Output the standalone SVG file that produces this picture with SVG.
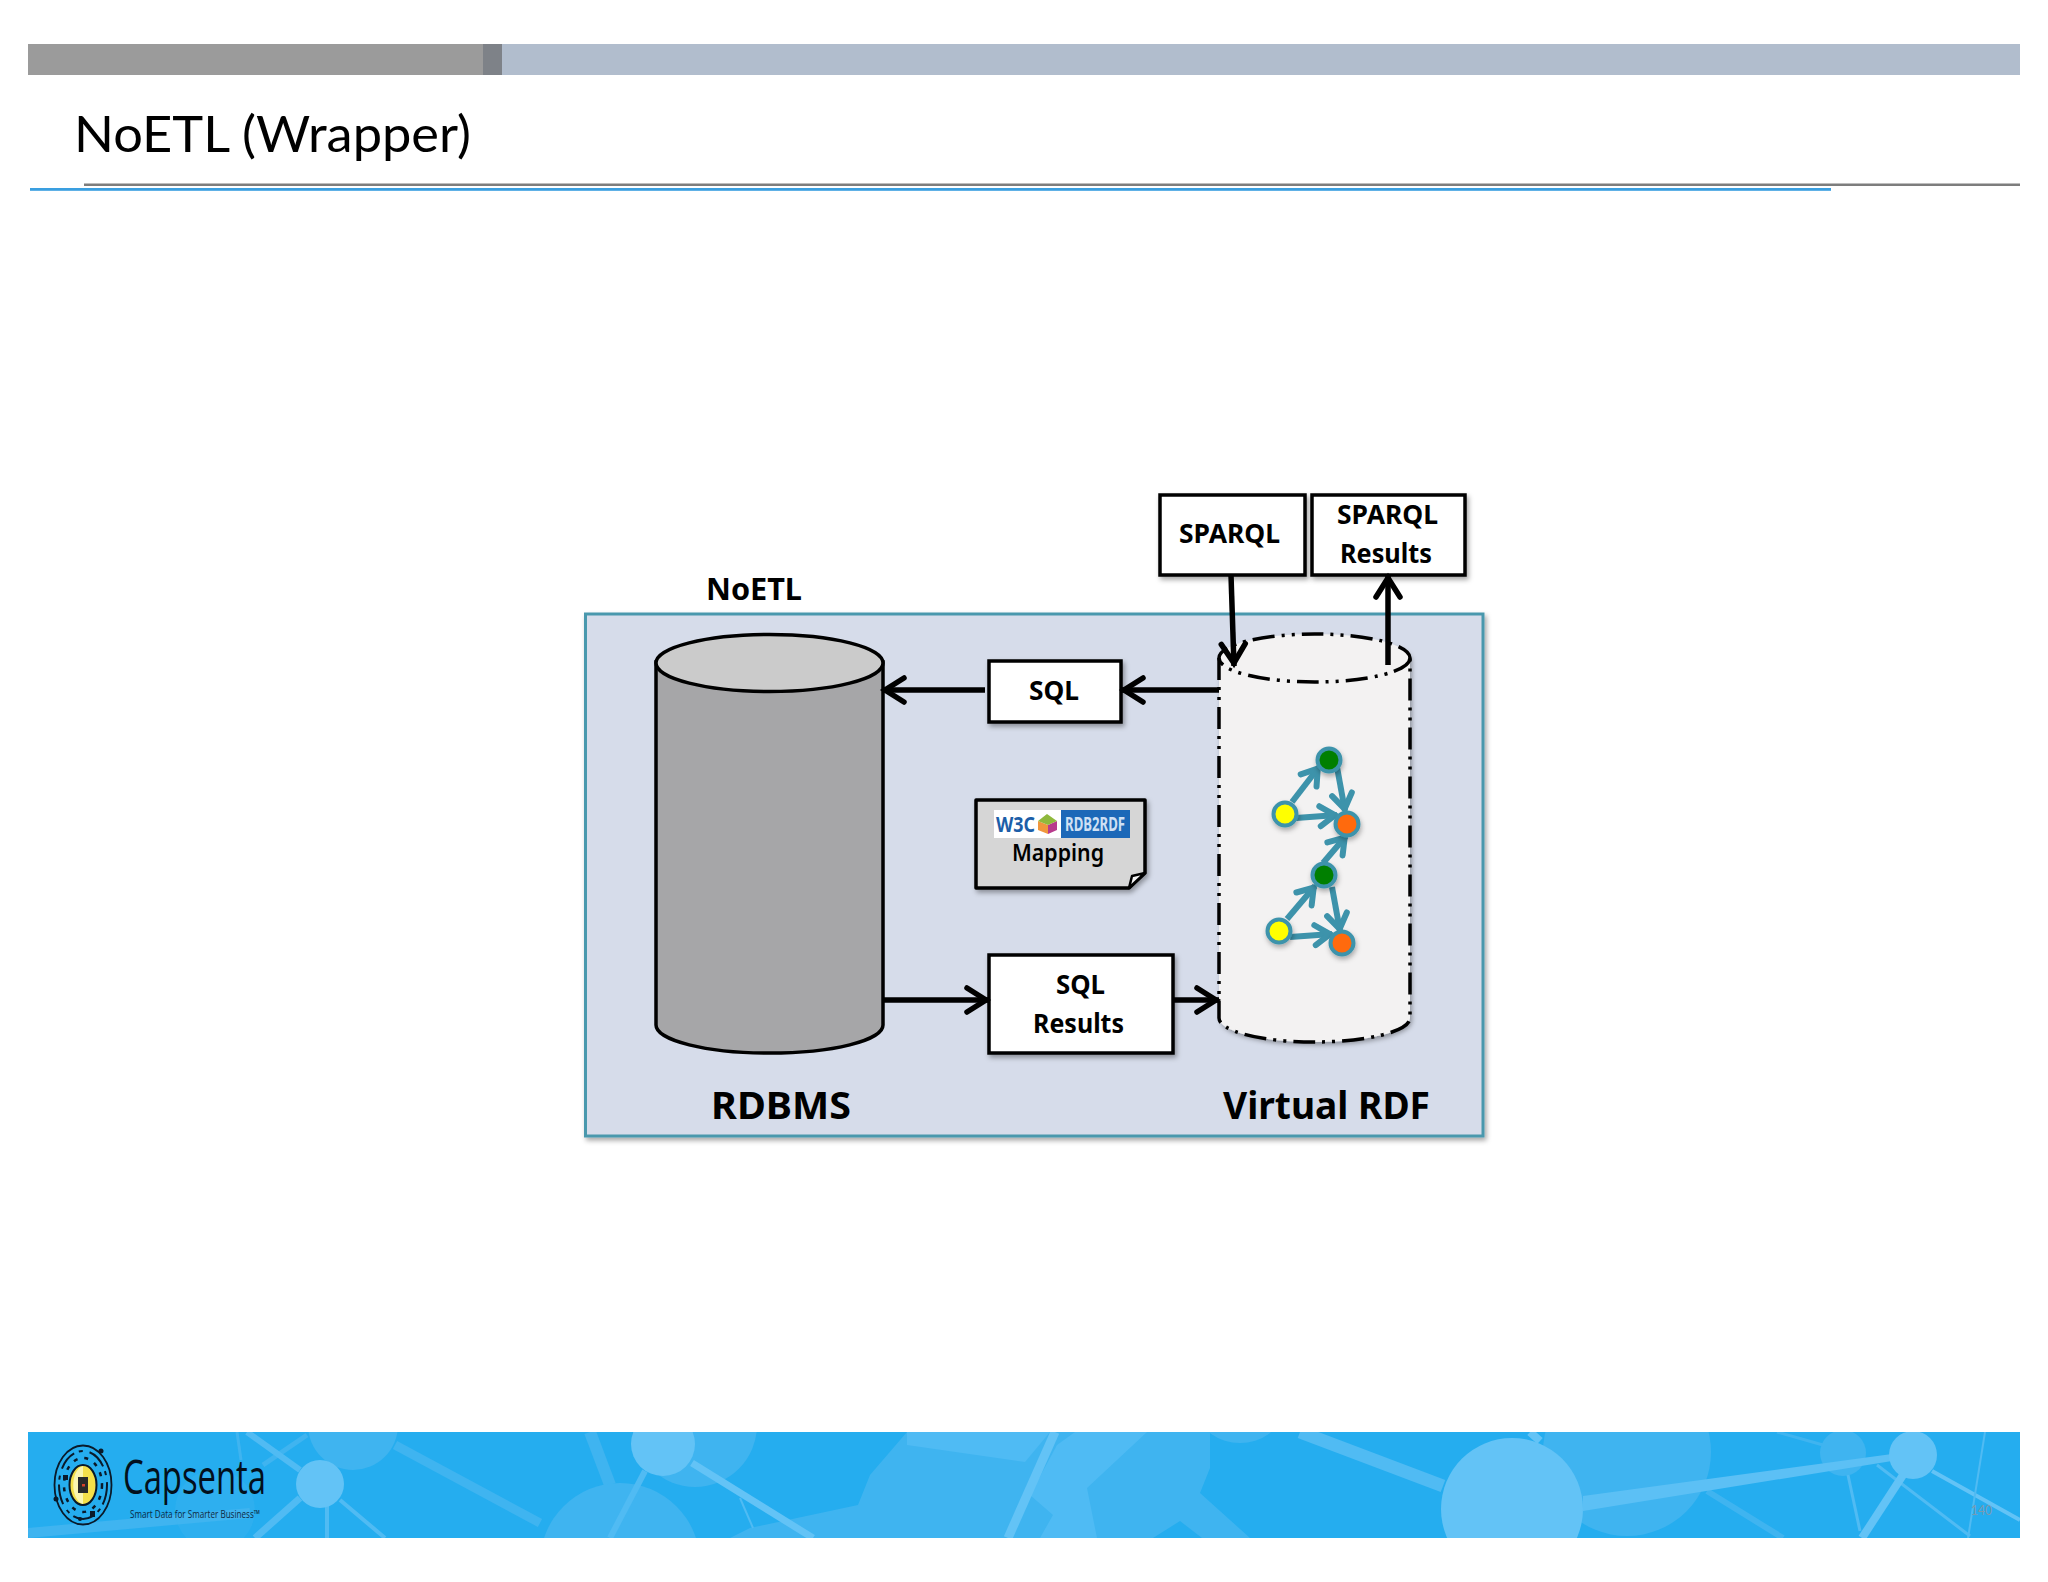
<svg xmlns="http://www.w3.org/2000/svg" width="2048" height="1582" viewBox="0 0 2048 1582">
<style>
.lbl{font-family:"Noto Sans","Open Sans",sans-serif;font-weight:700;fill:#000;}
.box{fill:#fff;stroke:#000;stroke-width:3.5;filter:url(#sh);}
.conn{fill:none;stroke:#000;stroke-width:5.5;marker-end:url(#ah);}
.rdf{fill:none;stroke:#3d93ab;stroke-width:6;marker-end:url(#ta);}
.nd{stroke:#3d93ab;stroke-width:4;filter:url(#sh2);}
.dd{fill:none;stroke:#000;stroke-width:3.5;stroke-dasharray:22 7 3 7 3 7;}
.m{fill:#3fb4f0;}
.l{fill:#63c3f6;}
.ms{stroke:#3fb4f0;fill:none;}
.ls{stroke:#63c3f6;fill:none;}
.mid{stroke:#50bbf3;fill:none;}
.lg{fill:#0a1a2a;}
</style>
<defs>
<marker id="ah" markerUnits="userSpaceOnUse" markerWidth="40" markerHeight="40" refX="26" refY="20" orient="auto" viewBox="0 0 40 40"><path d="M4,8 L23,20 L4,32" fill="none" stroke="#000" stroke-width="5.5" stroke-linecap="round" stroke-linejoin="miter"/></marker>
<marker id="ta" markerUnits="userSpaceOnUse" markerWidth="32" markerHeight="32" refX="22" refY="16" orient="auto" viewBox="0 0 32 32"><path d="M5,6 L20,16 L5,26" fill="none" stroke="#3d93ab" stroke-width="6" stroke-linecap="round"/></marker>
<filter id="sh" x="-10%" y="-10%" width="125%" height="125%"><feDropShadow dx="2" dy="3" stdDeviation="2.5" flood-color="#000" flood-opacity=".35"/></filter>
<filter id="sh2" x="-30%" y="-30%" width="170%" height="170%"><feDropShadow dx="1" dy="3" stdDeviation="2.5" flood-color="#000" flood-opacity=".3"/></filter>
<clipPath id="fc"><rect x="28" y="1432" width="1992" height="106"/></clipPath>
</defs>
<rect width="2048" height="1582" fill="#fff"/>

<g id="header">
<rect x="28" y="44" width="1992" height="31" fill="#b1bdcd"/>
<rect x="28" y="44" width="455" height="31" fill="#9b9b9b"/>
<rect x="483" y="44" width="19" height="31" fill="#7e8288"/>
<text x="74" y="151.500" font-family="Lato,'Noto Sans',sans-serif" font-size="50" fill="#000" textLength="397" lengthAdjust="spacingAndGlyphs">NoETL (Wrapper)</text>
<rect x="84" y="183.500" width="1936" height="2.500" fill="#7d7d7d"/>
<rect x="30" y="188" width="1801" height="2.800" fill="#3a9fe0"/>
</g>

<g id="footer">
<rect x="28" y="1432" width="1992" height="106" fill="#25adef"/>
<g clip-path="url(#fc)">
<path class="ms" stroke-width="10" d="M28,1533 L250,1513"/>
<circle class="m" cx="215" cy="1510" r="40" opacity=".35"/>
<circle class="m" cx="353" cy="1425" r="45"/>
<path class="ms" stroke-width="9" d="M395,1445 L540,1523"/>
<path class="ms" stroke-width="5" d="M263,1465 L307,1435"/>
<path class="ms" stroke-width="3" d="M237,1432 L241,1460"/>
<path class="ms" stroke-width="12" d="M590,1432 L610,1485"/>
<circle class="m" cx="620" cy="1563" r="80"/>
<circle class="m" cx="695" cy="1425" r="62"/>
<path class="mid" stroke-width="6" d="M247,1432 L300,1470"/>
<path class="mid" stroke-width="7" d="M300,1498 L255,1538"/>
<path class="mid" stroke-width="4" d="M327,1505 V1538 M340,1500 L385,1538"/>
<circle class="l" cx="320" cy="1484" r="24"/>
<path class="mid" stroke-width="6" d="M645,1471 L610,1538"/>
<circle class="l" cx="663" cy="1444" r="32"/>
<path class="m" d="M907,1432 H1210 V1468 L1200,1493 L1250,1538 H730 L750,1528 L797,1518 L858,1505 L870,1475 Z"/>
<path fill="#25adef" d="M1180,1521 L1153,1538 H1202 Z"/>
<path fill="#4fbbf4" d="M907,1432 H1050 L1025,1462 L907,1445 Z M1057,1445 L1075,1432 H1147 L1087,1488 L1097,1538 H1040 L1053,1515 L1030,1495 Z"/>
<path class="ls" stroke-width="7" d="M692,1463 L813,1538"/>
<path class="mid" stroke-width="2" d="M740,1498 L753,1528"/>
<path class="ls" stroke-width="9" d="M1055,1432 L1008,1538"/>
<ellipse class="m" cx="1240" cy="1413" rx="40" ry="30"/>
<circle class="m" cx="1627" cy="1452" r="84"/>
<path class="ms" stroke-width="6" d="M1707,1491 L1783,1538"/>
<path class="ms" stroke-width="3" d="M1777,1432 L1823,1445"/>
<circle class="m" cx="1843" cy="1453" r="23"/>
<path class="mid" stroke-width="3" d="M1877,1465 L1970,1536 M1848,1475 L1860,1531"/>
<path class="mid" stroke-width="13" d="M1300,1432 L1443,1486"/>
<path class="ls" stroke-width="8" d="M1530,1432 L1540,1441"/>
<circle class="l" cx="1512" cy="1509" r="71"/>
<path fill="#5cc0f5" d="M1583,1496 L1892,1454 V1461 L1583,1511 Z"/>
<circle class="l" cx="1913" cy="1455" r="24"/>
<path class="ls" stroke-width="8" d="M1903,1475 L1862,1538"/>
<path class="ls" stroke-width="4" d="M1932,1471 L2020,1520"/>
<path class="mid" stroke-width="2" d="M1985,1432 L1968,1538"/>
</g>
<g id="logo">
<ellipse cx="83" cy="1485" rx="28.500" ry="39.500" fill="none" stroke="#0a1a2a" stroke-width="1.800"/>
<ellipse cx="83" cy="1485" rx="24" ry="34" fill="none" stroke="#0a1a2a" stroke-width="2" stroke-dasharray="20 5 4 7"/>
<ellipse cx="83" cy="1485" rx="19" ry="27" fill="none" stroke="#0a1a2a" stroke-width="2.500" stroke-dasharray="4 7"/>
<ellipse cx="83" cy="1485" rx="13.500" ry="20" fill="#f4e04a" stroke="#0a1a2a" stroke-width="2"/>
<path d="M83,1466 C70,1470 70,1500 83,1504" fill="#fbf6b0"/>
<rect x="78" y="1477" width="10" height="16" fill="#2a2a2a"/>
<rect x="82" y="1484" width="3" height="2.500" fill="#d8402a"/>
<rect class="lg" x="90" y="1511" width="5" height="6"/>
<rect class="lg" x="63" y="1475" width="5" height="5"/>
<circle class="lg" cx="56" cy="1499" r="2.500"/>
<circle class="lg" cx="101" cy="1451" r="2.500"/>
<circle class="lg" cx="80" cy="1519" r="2"/>
<text x="123" y="1494" font-family="'Open Sans','Noto Sans',sans-serif" font-size="48" fill="#03101c" textLength="143" lengthAdjust="spacingAndGlyphs">Capsenta</text>
<text x="130" y="1518" font-family="'Open Sans','Noto Sans',sans-serif" font-size="11.500" fill="#0d2a42" textLength="130" lengthAdjust="spacingAndGlyphs">Smart Data for Smarter Business™</text>
</g>
<text x="1971" y="1515" font-family="Lato,'Open Sans',sans-serif" font-size="14" fill="#7a9ab2" textLength="21" lengthAdjust="spacingAndGlyphs">140</text>
</g>

<g id="noetl-panel">
<rect x="585.500" y="614" width="897.500" height="522" fill="#d6dcea" stroke="#4a98ad" stroke-width="3" filter="url(#sh)"/>
<text class="lbl" x="706" y="600" font-size="31" textLength="96" lengthAdjust="spacingAndGlyphs">NoETL</text>
</g>

<g id="rdbms">
<path d="M656,662 V1025 A113,28 0 0 0 883,1025 V662 Z" fill="#a6a6a8" stroke="#000" stroke-width="3.500"/>
<ellipse cx="769.500" cy="663" rx="113.500" ry="28.500" fill="#cbcbcb" stroke="#000" stroke-width="3.500"/>
<text class="lbl" x="711" y="1119" font-size="37" textLength="140" lengthAdjust="spacingAndGlyphs">RDBMS</text>
</g>

<g id="virtual-rdf">
<path d="M1219,658 V1018 A95.500,24 0 0 0 1410,1018 V658 A95.500,24 0 0 0 1219,658 Z" fill="#f3f2f2" filter="url(#sh)"/>
<path class="dd" d="M1219,658 V1018 A95.500,24 0 0 0 1410,1018 V658"/>
<ellipse class="dd" cx="1314.500" cy="658" rx="95.500" ry="24"/>
<text class="lbl" x="1223" y="1119" font-size="37" textLength="207" lengthAdjust="spacingAndGlyphs">Virtual RDF</text>
</g>

<g id="rdf-graph">
<path class="rdf" d="M1292,802 L1319,767"/>
<path class="rdf" d="M1337,767 L1345,811"/>
<path class="rdf" d="M1296,818 L1337,815"/>
<path class="rdf" d="M1323,863 L1346,836"/>
<path class="rdf" d="M1287,919 L1315,886"/>
<path class="rdf" d="M1332,887 L1340,931"/>
<path class="rdf" d="M1290,937 L1332,934"/>
<circle class="nd" cx="1329" cy="760" r="11.500" fill="#067f06"/>
<circle class="nd" cx="1285" cy="814" r="11.500" fill="#ffff00"/>
<circle class="nd" cx="1347" cy="824" r="11.500" fill="#ff6a0a"/>
<circle class="nd" cx="1324" cy="875" r="11.500" fill="#067f06"/>
<circle class="nd" cx="1279" cy="931" r="11.500" fill="#ffff00"/>
<circle class="nd" cx="1342" cy="943" r="11.500" fill="#ff6a0a"/>
</g>

<g id="sql">
<rect class="box" x="989" y="661" width="132" height="61"/>
<text class="lbl" x="1029" y="700" font-size="27" textLength="50" lengthAdjust="spacingAndGlyphs">SQL</text>
</g>

<g id="sql-results">
<rect class="box" x="989" y="955" width="184" height="98"/>
<text class="lbl" x="1056" y="994" font-size="27" textLength="49" lengthAdjust="spacingAndGlyphs">SQL</text>
<text class="lbl" x="1033" y="1033" font-size="27" textLength="91" lengthAdjust="spacingAndGlyphs">Results</text>
</g>

<g id="sparql">
<rect class="box" x="1160" y="495" width="145" height="80"/>
<text class="lbl" x="1179" y="543" font-size="27" textLength="101" lengthAdjust="spacingAndGlyphs">SPARQL</text>
</g>

<g id="sparql-results">
<rect class="box" x="1312" y="495" width="153" height="80"/>
<text class="lbl" x="1337" y="524" font-size="27" textLength="101" lengthAdjust="spacingAndGlyphs">SPARQL</text>
<text class="lbl" x="1340" y="563" font-size="27" textLength="92" lengthAdjust="spacingAndGlyphs">Results</text>
</g>

<g id="mapping">
<path d="M976,800 H1145 V873 L1129,888 H976 Z" fill="#d6d6d6" stroke="#000" stroke-width="3.500" stroke-linejoin="round" filter="url(#sh)"/>
<path d="M1145,873 L1132,876 L1129,888 Z" fill="#f4f4f4" stroke="#000" stroke-width="2.500" stroke-linejoin="round"/>
<rect x="994" y="810" width="67" height="28" fill="#fff"/>
<rect x="1061" y="810" width="69" height="28" fill="#1c68b8"/>
<text x="996" y="832" font-family="'Noto Sans',sans-serif" font-weight="700" font-size="21" fill="#1c5ea8" textLength="39" lengthAdjust="spacingAndGlyphs">W3C</text>
<path d="M1038,821 L1048,825 V834 L1038,830 Z" fill="#f0963c"/>
<path d="M1048,825 L1057,821 V830 L1048,834 Z" fill="#b83a8c"/>
<path d="M1038,821 L1047,814 L1057,821 L1048,825 Z" fill="#8fb93c"/>
<text x="1065" y="831" font-family="'Noto Sans',sans-serif" font-weight="700" font-size="19" fill="#cfe0f4" textLength="60" lengthAdjust="spacingAndGlyphs">RDB2RDF</text>
<text x="1012" y="861" font-family="'Noto Sans',sans-serif" font-weight="600" font-size="23" fill="#000" textLength="92" lengthAdjust="spacingAndGlyphs">Mapping</text>
</g>

<g id="connectors">
<path class="conn" d="M1219,690 H1121"/>
<path class="conn" d="M985,690 H882"/>
<path class="conn" d="M883,1000 H989"/>
<path class="conn" d="M1173,1000 H1219"/>
<path class="conn" d="M1231,575 L1234,666"/>
<path class="conn" d="M1388,665 V575"/>
</g>
</svg>
